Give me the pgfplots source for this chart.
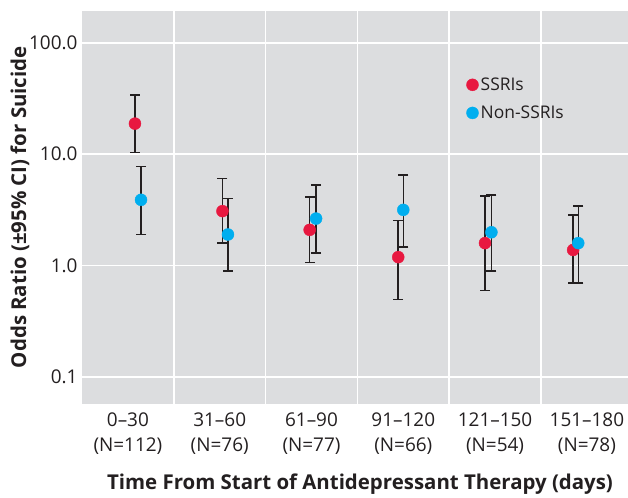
\documentclass[border=0pt]{standalone}
\usepackage{pgfplots}
\pgfplotsset{compat=1.18}
\usetikzlibrary{calc}
\usepackage{fontspec}
\setmainfont{Open Sans}
\definecolor{ssri}{RGB}{232,24,64}
\definecolor{nonssri}{RGB}{0,174,239}
\definecolor{panel}{RGB}{220,221,223}
\definecolor{ink}{RGB}{35,31,32}

% x: category position (0 = 0-30 days, ...), y: odds ratio, lo/hi: 95% CI
\pgfplotstableread{
x      y     lo     hi
0.077  18.8  10.3   33.9
1.03   3.08  1.59   6.05
1.98   2.09  1.07   4.11
2.945  1.19  0.495  2.55
3.89   1.59  0.60   4.20
4.85   1.38  0.70   2.83
}\ssritab
\pgfplotstableread{
x      y     lo     hi
0.143  3.89  1.89   7.75
1.09   1.90  0.89   4.00
2.05   2.64  1.29   5.27
3.00   3.16  1.46   6.48
3.96   1.99  0.89   4.28
4.906  1.59  0.70   3.41
}\nonssritab

\begin{document}
\begin{tikzpicture}
\begin{axis}[
  scale only axis, width=546bp, height=393bp,
  ymode=log, ymin=0.0575, ymax=194,
  xmin=-0.5, xmax=5.448,
  axis line style={draw=none},
  axis background/.style={fill=panel},
  ytick={0.1,1,10,100}, yticklabels={0.1,1.0,10.0,100.0},
  xtick={0,1,2,3,4,5},
  xticklabels={{0--30\\(N=112)},{31--60\\(N=76)},{61--90\\(N=77)},{91--120\\(N=66)},{121--150\\(N=54)},{151--180\\(N=78)}},
  minor xtick={0.5,1.5,2.5,3.5,4.5},
  minor ytick={},
  ymajorgrids, xminorgrids,
  grid style={white, line width=1.6bp},
  major tick length=0pt, minor tick length=0pt,
  tick style={draw=none},
  tick label style={font=\fontsize{19}{25}\selectfont, text=ink},
  xticklabel style={align=center, yshift=-6bp},
  yticklabel style={xshift=-1bp},
  /pgf/number format/assume math mode=true,
  xlabel={\textbf{Time From Start of Antidepressant Therapy (days)}},
  ylabel={\textbf{Odds Ratio (±95\% CI) for Suicide}},
  label style={font=\fontsize{20.5}{22}\selectfont, text=ink},
  xlabel style={yshift=-12bp, xshift=5bp},
  ylabel style={yshift=-7bp},
  clip=false,
  legend style={at={(0.698,0.840)}, anchor=north west, draw=none, fill=none,
    font=\fontsize{17.5}{20}\selectfont, text=ink, row sep=10bp,
    /tikz/every even column/.append style={column sep=12bp}},
  legend cell align=left,
]
\coordinate (ll) at (rel axis cs:0,0);
\coordinate (ur) at (rel axis cs:1,1);
% confidence intervals
\addplot[forget plot, ink, line width=1.5bp, mark=-, mark size=5bp,
  mark options={solid, line width=1.5bp}, unbounded coords=jump]
  coordinates {
  (0.077,10.3) (0.077,33.9) (0.077,nan)
  (1.03,1.59) (1.03,6.05) (1.03,nan)
  (1.98,1.07) (1.98,4.11) (1.98,nan)
  (2.945,0.495) (2.945,2.55) (2.945,nan)
  (3.89,0.60) (3.89,4.20) (3.89,nan)
  (4.85,0.70) (4.85,2.83)
  };
\addplot[forget plot, ink, line width=1.5bp, mark=-, mark size=5bp,
  mark options={solid, line width=1.5bp}, unbounded coords=jump]
  coordinates {
  (0.143,1.89) (0.143,7.75) (0.143,nan)
  (1.09,0.89) (1.09,4.00) (1.09,nan)
  (2.05,1.29) (2.05,5.27) (2.05,nan)
  (3.00,1.46) (3.00,6.48) (3.00,nan)
  (3.96,0.89) (3.96,4.28) (3.96,nan)
  (4.906,0.70) (4.906,3.41)
  };
% point estimates
\addplot[only marks, mark=*, mark size=6bp, ssri, mark options={draw=none, fill=ssri},
  legend image code/.code={\fill[ssri] (0.2cm,0cm) circle (6bp);}]
  table[x=x, y=y] {\ssritab};
\addlegendentry{SSRIs}
\addplot[only marks, mark=*, mark size=6bp, nonssri, mark options={draw=none, fill=nonssri},
  legend image code/.code={\fill[nonssri] (0.2cm,0cm) circle (6bp);}]
  table[x=x, y=y] {\nonssritab};
\addlegendentry{Non-SSRIs}
\end{axis}
\pgfresetboundingbox
\path[use as bounding box] ($(ll)+(-82bp,-94bp)$) rectangle ($(ur)+(0bp,10.7bp)$);
\end{tikzpicture}
\end{document}
